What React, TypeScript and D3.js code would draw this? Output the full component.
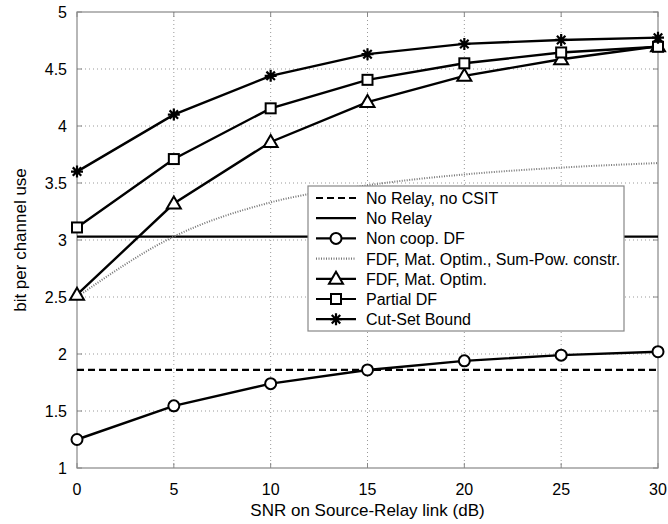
import { useEffect, useRef } from "react";
import * as d3 from "d3";

const snr = [0, 5, 10, 15, 20, 25, 30];
const cutSet = [3.6, 4.1, 4.44, 4.63, 4.72, 4.755, 4.775];
const partialDF = [3.11, 3.71, 4.155, 4.405, 4.55, 4.645, 4.695];
const fdfMat = [2.52, 3.32, 3.86, 4.21, 4.44, 4.585, 4.7];
const fdfSumPow = [2.5, 3.03, 3.33, 3.48, 3.575, 3.635, 3.675];
const nonCoopDF = [1.25, 1.545, 1.74, 1.86, 1.94, 1.99, 2.02];
const noRelay = 3.03;
const noRelayNoCSIT = 1.86;

const xTicks = [0, 5, 10, 15, 20, 25, 30];
const yTicks = [1, 1.5, 2, 2.5, 3, 3.5, 4, 4.5, 5];

const legendLabels = [
  "No Relay, no CSIT",
  "No Relay",
  "Non coop. DF",
  "FDF, Mat. Optim., Sum-Pow. constr.",
  "FDF, Mat. Optim.",
  "Partial DF",
  "Cut-Set Bound",
];

const W = 668, H = 524;
const margin = { top: 12, right: 10, bottom: 56, left: 77 };

function drawMarker(g: any, type: string, cx: number, cy: number) {
  if (type === "circle") {
    g.append("circle").attr("cx", cx).attr("cy", cy).attr("r", 5.5)
      .attr("fill", "white").attr("stroke", "black").attr("stroke-width", 2);
  } else if (type === "square") {
    g.append("rect").attr("x", cx - 5).attr("y", cy - 5).attr("width", 10).attr("height", 10)
      .attr("fill", "white").attr("stroke", "black").attr("stroke-width", 2);
  } else if (type === "triangle") {
    g.append("path").attr("d", `M${cx},${cy - 7}L${cx + 7},${cy + 5}L${cx - 7},${cy + 5}Z`)
      .attr("fill", "white").attr("stroke", "black").attr("stroke-width", 2);
  } else if (type === "star") {
    const r = 6;
    let d = "";
    for (let k = 0; k < 4; k++) {
      const a = (k * Math.PI) / 4;
      d += `M${cx - r * Math.cos(a)},${cy - r * Math.sin(a)}L${cx + r * Math.cos(a)},${cy + r * Math.sin(a)}`;
    }
    g.append("path").attr("d", d).attr("stroke", "black").attr("stroke-width", 2.2).attr("fill", "none");
  }
}

export default function App() {
  const svgRef = useRef<SVGSVGElement>(null);

  useEffect(() => {
    const wt = W - margin.left - margin.right,
      ht = H - margin.top - margin.bottom;

    d3.select(svgRef.current).selectAll("*").remove();
    const svg = d3.select(svgRef.current)
      .attr("width", W)
      .attr("height", H)
      .style("font-family", "'Liberation Sans', Arial, sans-serif");

    const g = svg.append("g").attr("transform", `translate(${margin.left},${margin.top})`);

    const x = d3.scaleLinear().domain([0, 30]).range([0, wt]);
    const y = d3.scaleLinear().domain([1, 5]).range([ht, 0]);

    // grid
    g.selectAll(".gx").data(xTicks.slice(1, -1)).join("line")
      .attr("x1", d => x(d)).attr("x2", d => x(d)).attr("y1", 0).attr("y2", ht)
      .attr("stroke", "#999").attr("stroke-width", 1).attr("stroke-dasharray", "1,3");
    g.selectAll(".gy").data(yTicks.slice(1, -1)).join("line")
      .attr("x1", 0).attr("x2", wt).attr("y1", d => y(d)).attr("y2", d => y(d))
      .attr("stroke", "#999").attr("stroke-width", 1).attr("stroke-dasharray", "1,3");

    // box
    g.append("rect").attr("x", 0).attr("y", 0).attr("width", wt).attr("height", ht)
      .attr("fill", "none").attr("stroke", "#888").attr("stroke-width", 1.2);

    // ticks
    const tl = 5;
    xTicks.forEach(t => {
      g.append("line").attr("x1", x(t)).attr("x2", x(t)).attr("y1", ht).attr("y2", ht - tl).attr("stroke", "#888");
      g.append("line").attr("x1", x(t)).attr("x2", x(t)).attr("y1", 0).attr("y2", tl).attr("stroke", "#888");
      g.append("text").attr("x", x(t)).attr("y", ht + 27).attr("text-anchor", "middle")
        .style("font-size", "16px").text(t);
    });
    yTicks.forEach(t => {
      g.append("line").attr("x1", 0).attr("x2", tl).attr("y1", y(t)).attr("y2", y(t)).attr("stroke", "#888");
      g.append("line").attr("x1", wt).attr("x2", wt - tl).attr("y1", y(t)).attr("y2", y(t)).attr("stroke", "#888");
      g.append("text").attr("x", -10).attr("y", y(t) + 6).attr("text-anchor", "end")
        .style("font-size", "16px").text(t);
    });

    // axis labels
    svg.append("text").attr("x", margin.left + wt / 2).attr("y", H - 8).attr("text-anchor", "middle")
      .style("font-size", "17px").text("SNR on Source-Relay link (dB)");
    svg.append("text").attr("transform", `translate(26,${margin.top + ht / 2}) rotate(-90)`)
      .attr("text-anchor", "middle").style("font-size", "17px").text("bit per channel use");

    const line = d3.line<number>().x((_, i) => x(snr[i])).y(d => y(d));

    // horizontal references
    g.append("path").attr("d", line(snr.map(() => noRelayNoCSIT)))
      .attr("fill", "none").attr("stroke", "black").attr("stroke-width", 2.2).attr("stroke-dasharray", "7,4");
    g.append("path").attr("d", line(snr.map(() => noRelay)))
      .attr("fill", "none").attr("stroke", "black").attr("stroke-width", 2.4);

    // dotted sum-power curve
    g.append("path").attr("d", line.curve(d3.curveMonotoneX)(fdfSumPow))
      .attr("fill", "none").attr("stroke", "#777").attr("stroke-width", 2).attr("stroke-dasharray", "1,1.5");
    line.curve(d3.curveLinear);

    const series: [number[], string][] = [
      [nonCoopDF, "circle"],
      [fdfMat, "triangle"],
      [partialDF, "square"],
      [cutSet, "star"],
    ];
    series.forEach(([vals]) => {
      g.append("path").attr("d", line(vals)).attr("fill", "none")
        .attr("stroke", "black").attr("stroke-width", 2.4);
    });
    series.forEach(([vals, m]) => {
      vals.forEach((v, i) => drawMarker(g, m, x(snr[i]), y(v)));
    });

    // legend
    const lg = svg.append("g").attr("transform", "translate(308,186)");
    lg.append("rect").attr("width", 316).attr("height", 145)
      .attr("fill", "white").attr("stroke", "#888").attr("stroke-width", 1.2);
    const styles = [
      { dash: "7,4", color: "black", marker: "" },
      { dash: null, color: "black", marker: "" },
      { dash: null, color: "black", marker: "circle" },
      { dash: "1,1.5", color: "#777", marker: "" },
      { dash: null, color: "black", marker: "triangle" },
      { dash: null, color: "black", marker: "square" },
      { dash: null, color: "black", marker: "star" },
    ];
    legendLabels.forEach((lab, i) => {
      const yy = 12 + i * 20.2;
      const s = styles[i];
      const l = lg.append("line").attr("x1", 8).attr("x2", 48).attr("y1", yy).attr("y2", yy)
        .attr("stroke", s.color).attr("stroke-width", 2.2);
      if (s.dash) l.attr("stroke-dasharray", s.dash);
      if (s.marker) drawMarker(lg, s.marker, 28, yy);
      lg.append("text").attr("x", 58).attr("y", yy + 6).style("font-size", "16px").text(lab);
    });
  }, []);

  return <svg ref={svgRef} style={{ position: "absolute", left: 0, top: 0 }}></svg>;
}
